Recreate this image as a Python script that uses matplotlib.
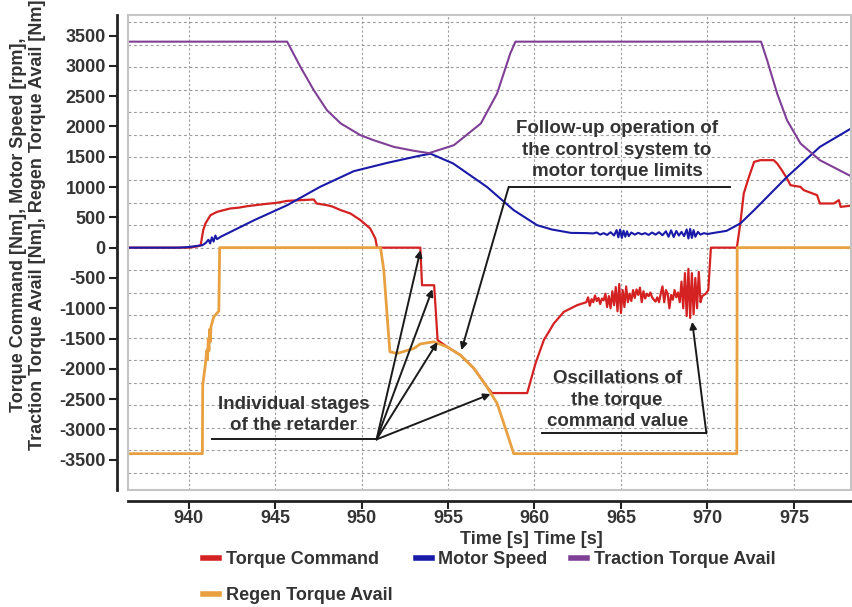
import numpy as np
import matplotlib.pyplot as plt
from matplotlib.lines import Line2D
from matplotlib.patches import Rectangle

# --------------------------------
# DATA
# --------------------------------

tc_t = [936.5, 940.0, 940.5, 940.7, 940.85, 940.98, 941.27, 941.65, 942.4, 942.9, 943.4,
        944.35, 945.1, 945.7, 947.24, 947.4, 948.0, 948.3, 948.8, 949.36, 949.94,
        950.5, 950.8, 950.9, 953.4, 953.5, 954.2, 954.4, 954.95, 955.72, 956.5,
        957.25, 957.55, 959.58, 960.06, 960.54, 961.12, 961.7, 962.47, 963.0,
        963.1, 963.2, 963.3, 963.4, 963.5, 963.6, 963.7, 963.8, 963.9, 964.0,
        964.1, 964.2, 964.3, 964.4, 964.5, 964.6, 964.7, 964.8, 964.9, 965.0,
        965.1, 965.2, 965.3, 965.4, 965.5, 965.6, 965.7, 965.8, 965.9, 966.0,
        966.1, 966.2, 966.3, 966.4, 966.5, 966.6, 966.7, 966.8, 966.9, 967.0,
        967.1, 967.2, 967.3, 967.4, 967.5, 967.6, 967.7, 967.8, 967.9, 968.0,
        968.1, 968.2, 968.3, 968.4, 968.5, 968.6, 968.7, 968.8, 968.9, 969.0,
        969.1, 969.2, 969.3, 969.4, 969.5, 969.6, 969.7, 969.8, 969.9, 970.05,
        970.2, 971.7, 971.9, 972.1, 972.4, 972.7, 973.06, 973.83, 974.03, 974.3,
        974.6, 974.8, 975.38, 975.57, 976.34, 976.5, 977.3, 977.6, 977.7, 978.5]
tc_v = [0, 0, 20, 40, 290, 400, 536, 591, 646, 660, 685,
        718, 740, 772, 795, 729, 701, 680, 619, 564, 454,
        317, 152, 0, 0, -620, -620, -1526, -1637, -1774, -1994,
        -2297, -2400, -2400, -1911, -1526, -1251, -1059, -949, -900,
        -820, -960, -850, -900, -790, -880, -830, -930, -840, -870,
        -760, -980, -800, -1000, -720, -950, -650, -1050, -600, -1080,
        -700, -980, -640, -900, -760, -880, -700, -830, -690, -780,
        -660, -900, -720, -840, -760, -800, -740, -820, -860, -890,
        -820, -900, -760, -640, -900, -700, -760, -1000, -780, -860,
        -700, -820, -740, -900, -560, -1000, -420, -1130, -350, -1160,
        -420, -1100, -500, -1000, -400, -900, -800, -780, -760, -700,
        0, 0, 399, 894, 1168, 1416, 1444, 1444, 1389, 1279,
        1142, 1031, 1003, 949, 866, 729, 729, 784, 673, 700]

ms_t = [936.5, 939.4, 940.0, 940.8, 941.0, 941.15, 941.25, 941.35, 941.45, 941.55,
        941.65, 941.85, 943.8, 945.7, 947.6, 949.55, 951.5, 953.4, 954.0, 955.3,
        957.25, 958.8, 960.15, 961.0, 962.1, 963.0, 963.4, 963.6, 963.8, 964.0,
        964.2, 964.4, 964.6, 964.75, 964.85, 964.95, 965.05, 965.15, 965.25, 965.35,
        965.45, 965.6, 965.8, 966.0, 966.2, 966.4, 966.6, 966.8, 967.0, 967.2,
        967.4, 967.6, 967.75, 967.9, 968.05, 968.2, 968.35, 968.5, 968.65, 968.8,
        968.9, 969.0, 969.1, 969.2, 969.3, 969.45, 969.6, 969.8, 970.0, 970.4,
        971.1, 971.9, 972.7, 974.6, 976.5, 978.5]
ms_v = [0, 0, 10, 40, 80, 130, 70, 170, 100, 200,
        140, 178, 454, 700, 1003, 1262, 1400, 1520, 1550, 1389,
        1003, 619, 371, 300, 244, 240, 235, 250, 215, 240,
        210, 255, 200, 290, 170, 300, 160, 280, 180, 270,
        190, 250, 215, 245, 220, 240, 210, 250, 215, 255,
        205, 270, 180, 285, 175, 275, 200, 260, 190, 300,
        150, 310, 160, 290, 180, 260, 215, 240, 225, 245,
        277, 399, 619, 1168, 1663, 2000]

tt_t = [936.5, 945.7, 946.47, 947.24, 948.0, 948.8, 949.94, 950.7, 951.87, 953.0,
        953.9, 955.34, 956.9, 957.84, 958.6, 958.9, 973.1, 973.45, 974.03, 974.6,
        975.38, 976.5, 978.5]
tt_v = [3400, 3400, 2983, 2599, 2269, 2050, 1856, 1774, 1663, 1600,
        1560, 1691, 2050, 2545, 3205, 3400, 3400, 3094, 2545, 2104,
        1719, 1444, 1150]

rg_t = [936.5, 940.8, 940.82, 940.98, 941.05, 941.1, 941.14, 941.18, 941.22, 941.26,
        941.3, 941.46, 941.75, 941.8, 951.1, 951.29, 951.5, 951.64, 952.06, 953.03,
        953.4, 954.16, 954.95, 955.72, 956.5, 957.25, 957.84, 958.42, 958.8, 971.7,
        971.72, 978.5]
rg_v = [-3400, -3400, -2269, -1911, -1700, -1850, -1500, -1700, -1350, -1550,
        -1300, -1142, -1048, 0, 0, -371, -1196, -1719, -1746, -1663,
        -1590, -1554, -1637, -1774, -1994, -2297, -2571, -3066, -3400, -3400,
        0, 0]

labels = ["Torque Command", "Motor Speed", "Traction Torque Avail", "Regen Torque Avail"]
colors = ["#d42222", "#1a1aa8", "#7f3f95", "#e8a040"]

y_ticks = list(range(-3500, 3501, 500))
x_ticks = [940, 945, 950, 955, 960, 965, 970, 975]

# --------------------------------
# FIGURE
# --------------------------------

plt.rcParams["font.family"] = ["Liberation Sans", "DejaVu Sans"]
plt.rcParams["font.weight"] = "bold"
plt.rcParams["axes.unicode_minus"] = False
txt = "#333333"

fig = plt.figure(figsize=(8.52, 6.07), dpi=100)
ax = fig.add_axes([128 / 852, 1 - 490 / 607, 723 / 852, 475 / 607])

ax.plot(tc_t, tc_v, color=colors[0], lw=1.6, zorder=3)
ax.plot(rg_t, rg_v, color=colors[3], lw=2.0, zorder=4)
ax.plot(ms_t, ms_v, color=colors[1], lw=1.5, zorder=5)
ax.plot(tt_t, tt_v, color=colors[2], lw=1.5, zorder=6)

ax.set_xlim(936.5, 978.3)
ax.set_ylim(-4000, 3840)

# grid of the scope screen
for gy in np.arange(-10, 11) * 372:
    ax.axhline(gy, color="#9a9a9a", lw=0.8, dashes=(2.5, 2.5), zorder=1)
for gx in x_ticks:
    ax.axvline(gx, color="#9a9a9a", lw=0.8, dashes=(2.0, 2.0), zorder=1)

ax.add_patch(Rectangle((0, 0), 1, 1, transform=ax.transAxes, fill=False,
                       edgecolor="#c4c4c4", lw=1.5, zorder=7, clip_on=False))

for s in ["top", "right"]:
    ax.spines[s].set_visible(False)
for s in ["left", "bottom"]:
    ax.spines[s].set_position(("outward", 8))
    ax.spines[s].set_linewidth(2)
    ax.spines[s].set_color("#222222")

ax.set_yticks(y_ticks)
ax.set_xticks(x_ticks)
ax.tick_params(axis="both", length=6, width=1.5, color="#222222", labelcolor=txt,
               labelsize=13, pad=2)
ax.tick_params(axis="x", pad=0.5)

ax.set_xlabel("Time [s] Time [s]", fontsize=13, color=txt, fontweight="bold")
ax.xaxis.set_label_coords((531 - 128) / 723, -0.087)

fig.text(28 / 852, 1 - 225 / 607,
         "Torque Command [Nm], Motor Speed [rpm],\nTraction Torque Avail [Nm], Regen Torque Avail [Nm]",
         rotation=90, ha="center", va="center", multialignment="center",
         fontsize=13, color=txt, fontweight="bold", linespacing=1.1)

# --------------------------------
# ANNOTATIONS
# --------------------------------

arrow = dict(arrowstyle="-|>", color="#1a1a1a", lw=1.4, mutation_scale=10, shrinkA=0, shrinkB=0)
line_kw = dict(color="#1a1a1a", lw=1.4, zorder=8)
note_kw = dict(ha="center", va="center", fontsize=13.5, color=txt, fontweight="bold",
               linespacing=1.35, zorder=8)

ax.text(964.78, 1609, "Follow-up operation of\nthe control system to\nmotor torque limits", **note_kw)
ax.plot([958.51, 971.33], [1003, 1003], **line_kw)
ax.annotate("", xy=(955.78, -1691), xytext=(958.51, 1003), arrowprops=arrow, zorder=8)

ax.text(946.09, -2759, "Individual stages\nof the retarder", **note_kw)
ax.plot([941.37, 950.87], [-3165, -3165], **line_kw)
for tip in [(953.41, -41), (954.1, -685), (954.39, -1559), (957.46, -2417)]:
    ax.annotate("", xy=tip, xytext=(950.87, -3165), arrowprops=arrow, zorder=8)

ax.text(964.78, -2516, "Oscillations of\nthe torque\ncommand value", **note_kw)
ax.plot([960.45, 969.94], [-3066, -3066], **line_kw)
ax.annotate("", xy=(969.12, -1224), xytext=(969.94, -3066), arrowprops=arrow, zorder=8)

# --------------------------------
# LEGEND
# --------------------------------

handles = [Line2D([], [], color=c, lw=4) for c in colors]
order = [0, 3, 1, 2]
fig.legend([handles[i] for i in order], [labels[i] for i in order], ncol=3,
           loc="upper left", bbox_to_anchor=(203 / 852, 1 - 551 / 607),
           frameon=False, fontsize=13, handlelength=0.9, handletextpad=0.35,
           columnspacing=1.3, labelspacing=1.05, borderpad=0, borderaxespad=0,
           labelcolor=txt)

fig.savefig("out.png", dpi=100)
